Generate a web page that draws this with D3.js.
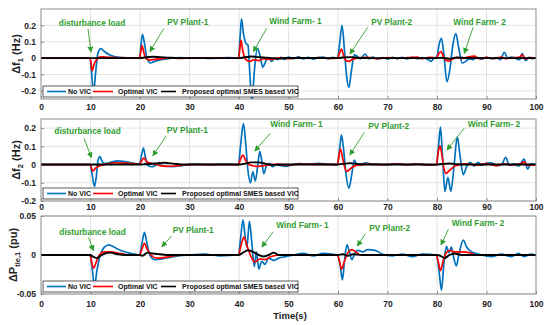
<!DOCTYPE html>
<html>
<head>
<meta charset="utf-8">
<script src="https://cdn.jsdelivr.net/npm/d3@7"></script>
<style>
  body { margin: 0; background: #fff; }
  svg text { font-family: "Liberation Sans", Arial, sans-serif; font-weight: bold; }
</style>
</head>
<body>
<div id="chart"></div>
<script>
////////////////////////////////////////////////////////////////////////
// Data: [time (s), value]

// panel 1 : delta f1 (Hz)
let f1NoVic = [[0,0],[9.9,0],[10.2,-0.08],[10.6,-0.22],[11.0,-0.1],[11.5,0.03],[12.1,0.058],[12.8,0.04],[13.8,0.02],[15,0.008],[16.5,0.003],[18,0],[19.9,0],[20.2,0.08],[20.5,0.145],[20.9,0.09],[21.4,0],[22.1,-0.03],[23,-0.02],[24.5,-0.008],[26,-0.002],[28,0.003],[30,0],[32,0.002],[34,-0.002],[36,0.001],[38,0.003],[39.9,0],[40.2,0.12],[40.5,0.24],[40.9,0.15],[41.4,0.09],[41.8,0.08],[42.2,-0.1],[42.6,-0.27],[43.1,-0.08],[43.7,0.06],[44.2,0.02],[44.8,-0.055],[45.4,-0.02],[46,0.005],[46.6,-0.02],[47.2,0],[47.8,-0.01],[48.5,0.005],[49.2,-0.008],[50,0.006],[51,-0.004],[52,0.007],[53,-0.005],[54,0.004],[55,-0.006],[56,0.003],[57,0.006],[58,-0.004],[59,0.004],[59.9,0],[60.3,0.08],[60.8,0.2],[61.3,0.05],[61.7,-0.1],[62.2,-0.18],[62.7,-0.08],[63.3,0.02],[63.9,0.01],[64.5,-0.005],[65.5,0.025],[66.2,-0.005],[67,0.006],[68,-0.004],[69,0.003],[70,-0.006],[71,0.005],[72,-0.003],[73,0.004],[74,-0.005],[75,0.005],[76,-0.004],[77,0.003],[78.2,-0.008],[78.8,-0.02],[79.4,0],[80,0.01],[80.4,0.08],[80.9,0.12],[81.4,0.02],[82,-0.145],[82.6,-0.07],[83.2,0.08],[83.8,0.15],[84.4,0.06],[85.1,-0.03],[85.8,-0.02],[86.5,-0.005],[87.2,-0.01],[88,0.004],[89,-0.006],[90,0.005],[91,-0.004],[92,0.003],[92.8,-0.01],[93.6,0.035],[94.3,0],[95,0.006],[96,-0.004],[96.7,-0.01],[97.2,0.028],[97.9,-0.015],[98.6,0.005],[99.3,-0.004],[100,0.003]];
let f1Optimal = [[0,0],[9.9,0],[10.1,-0.03],[10.35,-0.078],[10.7,-0.04],[11.2,-0.01],[12,0.008],[13,0.006],[14.5,0.004],[16,0.001],[19.9,0],[20.1,0.03],[20.4,0.077],[20.8,0.03],[21.3,-0.005],[22,-0.012],[23,-0.008],[24.5,-0.003],[26,0.002],[28,-0.002],[30,0],[34,0.002],[38,-0.001],[39.9,0],[40.15,0.05],[40.4,0.11],[40.8,0.04],[41.4,-0.01],[42.2,-0.02],[43,-0.01],[44,-0.015],[45,-0.004],[46.5,-0.008],[48,0.002],[50,-0.003],[52,0.003],[54,-0.002],[56,0.003],[58,-0.002],[59.9,0],[60.3,0.03],[60.7,0.055],[61.1,0.02],[61.6,-0.015],[62.2,-0.02],[62.9,-0.008],[64,0],[66,0.004],[68,-0.004],[70,0.003],[72,-0.002],[74,0.003],[76,0.006],[77,-0.004],[78.5,0.005],[79.9,0],[80.3,0.025],[80.8,0.04],[81.3,0.01],[81.8,-0.015],[82.4,-0.018],[83.2,-0.005],[84,0.003],[85,-0.002],[86,0.004],[87.5,0.012],[88.5,-0.004],[90,0.004],[91.5,-0.003],[93,0.006],[94,-0.004],[95.5,0.003],[96.5,0.004],[97.2,0.018],[97.9,-0.006],[99,0.003],[100,0]];
let f1Smes = [[0,0],[19.9,0],[21,0.004],[22.5,0.008],[24,0.006],[26,0.002],[28,0],[39.9,0],[41,0.004],[42.5,0.01],[44,0.006],[46,0.001],[48,-0.003],[50,0.001],[59.9,0],[61,0.004],[62.5,0.006],[64,0.002],[66,0],[79.9,0],[81,0.002],[82.5,-0.004],[84,0.004],[86,0.001],[90,0],[100,0]];

// panel 2 : delta f2 (Hz)
let f2NoVic = [[0,0],[9.9,0],[10.3,-0.05],[10.8,-0.12],[11.2,-0.06],[11.5,0.02],[11.9,0.043],[12.4,0.015],[13,0.005],[14,0.012],[15.5,0.02],[17,0.016],[18.5,0.008],[19.9,0.003],[20.3,0.05],[20.7,0.09],[21.1,0.04],[21.6,-0.005],[22.4,-0.012],[23.5,0],[25,-0.008],[26.5,-0.012],[28,-0.008],[29.5,0],[31,0.002],[34,0],[37,0.002],[39.9,0],[40.3,0.1],[40.9,0.225],[41.4,0.1],[41.8,-0.03],[42.3,-0.1],[42.8,-0.04],[43.3,-0.09],[43.8,0],[44.2,0.072],[44.6,0.02],[45,-0.05],[45.5,-0.01],[46.1,0.005],[46.8,-0.012],[47.6,0.002],[48.5,-0.006],[49.5,-0.01],[50.5,-0.004],[52,0.005],[54,0.002],[56,0.006],[58,0.002],[59.9,0],[60.3,0.08],[60.7,0.163],[61.1,0.09],[61.6,-0.05],[62.2,-0.13],[62.8,-0.05],[63.3,0.025],[63.8,0],[64.5,-0.004],[65.5,0.01],[66.5,0.004],[68,0.002],[70,-0.002],[72,0.003],[74,0],[76,0.002],[78,-0.003],[79.9,0],[80.3,0.1],[80.7,0.205],[81.1,0.05],[81.6,-0.148],[82.2,-0.07],[82.8,-0.148],[83.4,-0.02],[84.1,0.15],[84.7,0.04],[85.3,-0.055],[86,-0.01],[86.7,0.012],[87.5,-0.008],[88.3,0.012],[89,-0.005],[90,0.008],[91,0.01],[92,-0.006],[93.1,0.002],[93.9,0.04],[94.6,-0.004],[95.5,0.004],[96.5,-0.008],[97.6,0.03],[98.3,-0.025],[99,0.004],[100,0]];
let f2Optimal = [[0,0],[9.9,0],[10.2,-0.02],[10.5,-0.035],[11,-0.02],[12,-0.006],[13.5,0.004],[15,0.01],[17,0.008],[19,0.004],[19.9,0.002],[20.3,0.02],[20.8,0.035],[21.3,0.018],[22,0.008],[23,0.003],[24,-0.006],[25.5,-0.01],[27,-0.008],[28.5,-0.003],[30,0],[39.9,0],[40.3,0.03],[40.8,0.052],[41.3,0.025],[42,0],[43,-0.008],[44,-0.01],[45,-0.006],[46.5,0],[48,0.002],[50,-0.002],[52,0.002],[59.9,0],[60.2,0.05],[60.5,0.085],[60.9,0.04],[61.3,-0.01],[61.8,-0.037],[62.6,-0.02],[63.5,-0.006],[64.5,0],[66,0.002],[68,0],[72,0.003],[74,-0.002],[76,0.003],[78,-0.002],[79.9,0],[80.2,0.06],[80.6,0.104],[81,0.05],[81.4,-0.02],[81.8,-0.048],[82.6,-0.03],[83.5,-0.01],[84.5,0],[86,0.004],[88,-0.003],[90,0.005],[92,-0.006],[93.5,0.004],[95,-0.002],[97,0.005],[97.6,0.015],[98.3,-0.004],[100,0]];
let f2Smes = [[0,0],[19.9,0],[21,0.002],[23,0.006],[25,0.01],[27,0.004],[29,0],[39.9,0],[41,0.004],[42.5,0.012],[44,0.012],[45.5,0.004],[47,-0.002],[49,0],[59.9,0],[61,0.004],[62.5,0.008],[64,0.003],[66,0],[79.9,0],[81,0.003],[82.5,0.006],[84,0.002],[86,0],[100,0]];

// panel 3 : delta P tie,1 (pu)
let pNoVic = [[0,0],[9.9,0],[10.3,-0.015],[10.8,-0.04],[11.3,-0.02],[11.9,-0.002],[12.8,0.01],[13.7,0.013],[14.8,0.01],[16,0.006],[17.5,0.003],[19,0.001],[19.9,0],[20.4,0.015],[20.9,0.029],[21.4,0.015],[22,0],[23,-0.006],[24.5,-0.005],[26,-0.003],[28,-0.001],[30,0],[33,0.001],[36,-0.001],[39.9,0],[40.3,0.02],[40.8,0.045],[41.3,0.02],[41.6,0.01],[42.1,0.043],[42.6,0.015],[43.1,-0.015],[43.5,0.004],[44,-0.018],[44.6,-0.008],[45.2,-0.012],[46,-0.004],[47,-0.007],[48,-0.004],[49.5,-0.002],[51,0],[53,0.002],[55,-0.001],[57,0.002],[59.9,0],[60.4,-0.012],[60.9,-0.032],[61.3,-0.008],[61.8,0.013],[62.3,0.004],[62.8,-0.006],[63.3,0.001],[64,0.006],[65,0.004],[66,0.007],[67.5,0.006],[69,0.001],[71,-0.001],[73,0.001],[75,-0.002],[77,0.001],[79.9,0],[80.4,-0.02],[80.9,-0.045],[81.4,-0.01],[81.9,0.011],[82.4,0.003],[82.9,0.01],[83.4,-0.004],[83.9,-0.014],[84.4,0],[85.3,0.019],[86,0.01],[87,0.004],[88,0.002],[89,0],[91,-0.002],[93,0.001],[95,-0.002],[96.5,0.002],[97.5,-0.002],[99,0.001],[100,-0.001]];
let pOptimal = [[0,0],[9.9,0],[10.2,-0.008],[10.6,-0.017],[11.1,-0.01],[11.8,0],[12.8,0.004],[14,0.004],[16,0.002],[18,0],[19.9,0],[20.4,0.008],[20.9,0.015],[21.4,0.008],[22.2,0],[23.5,-0.004],[25,-0.003],[27,-0.001],[29,0],[39.9,0],[40.4,0.012],[41,0.023],[41.6,0.012],[42.3,0],[43.2,-0.009],[44.2,-0.005],[45.2,-0.006],[46.5,-0.002],[48,0],[59.9,0],[60.3,-0.008],[60.7,-0.018],[61.3,-0.008],[62,0.003],[62.8,0.007],[63.6,0.004],[64.5,0],[66,0],[79.9,0],[80.3,-0.01],[80.7,-0.02],[81.3,-0.006],[82,0.004],[82.6,0.006],[83.5,0.004],[85,0.004],[86.5,0.003],[88,0],[100,0]];
let pSmes = [[0,0],[9.9,0],[10.5,-0.002],[11.3,-0.004],[12,-0.001],[13,0.002],[14,0.003],[15.5,0.001],[17,0],[19.9,0],[20.5,-0.001],[21.5,0.003],[22.5,0.002],[24,0.001],[26,0],[39.9,0],[40.8,0.003],[41.8,0.006],[42.8,0.004],[44,0],[45,-0.002],[46,0],[47,0.003],[48,0],[50,0],[59.9,0],[61,0.001],[62,-0.001],[63,0.001],[65,0],[79.9,0],[80.7,-0.001],[81.5,-0.004],[82.5,0],[83.5,0.002],[85,0],[100,0]];

let xTicks = [0,10,20,30,40,50,60,70,80,90,100];
let yTicksF = [-0.2,-0.1,0,0.1,0.2];
let yTicksP = [-0.05,0,0.05];

let seriesNames = ["No VIC", "Optimal VIC", "Proposed optimal SMES based VIC"];
let seriesColors = ["#0072bd", "#ff0000", "#000000"];

// event labels: [text, text t, text value, arrow from t, from v, to t, to v]
let notes1 = [
  ["disturbance load", 3.6, 0.208, 9.5, 0.178, 10.1, 0.037],
  ["PV Plant-1", 25.5, 0.213, 24.8, 0.181, 22.0, 0.039],
  ["Wind Farm- 1", 46.1, 0.221, 45.6, 0.182, 42.9, 0.039],
  ["PV Plant-2", 66.7, 0.216, 66.0, 0.188, 62.4, 0.025],
  ["Wind Farm- 2", 83.3, 0.216, 87.3, 0.188, 85.5, 0.029]
];
let notes2 = [
  ["disturbance load", 2.7, 0.177, 8.7, 0.144, 10.2, 0.037],
  ["PV Plant-1", 25.4, 0.184, 25.3, 0.158, 22.6, 0.048],
  ["Wind Farm- 1", 46.3, 0.217, 46.3, 0.171, 43.2, 0.074],
  ["PV Plant-2", 66.1, 0.208, 65.3, 0.177, 62.4, 0.052],
  ["Wind Farm- 2", 86.2, 0.217, 85.5, 0.199, 82.0, 0.08]
];
let notes3 = [
  ["disturbance load", 3.7, 0.029, 9.6, 0.0227, 10.6, 0.0055],
  ["PV Plant-1", 26.6, 0.031, 26.4, 0.0244, 24.4, 0.0106],
  ["Wind Farm- 1", 47.5, 0.0376, 46.9, 0.0295, 44.6, 0.0103],
  ["PV Plant-2", 66.3, 0.0333, 65.5, 0.0269, 63.9, 0.0115],
  ["Wind Farm- 2", 83.0, 0.0394, 82.3, 0.033, 80.8, 0.0128]
];

////////////////////////////////////////////////////////////////////////
// svg + layout

let width = 550, height = 325;
let green = "#2f9e2f";

let svg = d3.select("#chart").append("svg")
  .attr("width", width).attr("height", height);

svg.append("defs").append("marker")
  .attr("id", "arrow")
  .attr("markerUnits", "userSpaceOnUse")
  .attr("viewBox", "0 0 10 10")
  .attr("refX", 9).attr("refY", 5)
  .attr("markerWidth", 6).attr("markerHeight", 6)
  .attr("orient", "auto")
  .append("path").attr("d", "M0,0L10,5L0,10z").attr("fill", green);

let xScale = d3.scaleLinear().domain([0, 100]).range([41, 536]);

let panels = [
  { top: 9,   bottom: 99,  domain: [-0.25, 0.3], ticks: yTicksF, series: [f1NoVic, f1Optimal, f1Smes],
    notes: notes1, label: ["\u0394f", "1", "  (Hz)"], labelX: 20, xLabelY: 110 },
  { top: 119, bottom: 201, domain: [-0.2, 0.25], ticks: yTicksF, series: [f2NoVic, f2Optimal, f2Smes],
    notes: notes2, label: ["\u0394f", "2", "  (Hz)"], labelX: 20, xLabelY: 210 },
  { top: 216, bottom: 294, domain: [-0.05, 0.05], ticks: yTicksP, series: [pNoVic, pOptimal, pSmes],
    notes: notes3, label: ["\u0394P", "tie,1", " (pu)"], labelX: 17, xLabelY: 307 }
];

panels.forEach(function(p, i) {
  let yScale = d3.scaleLinear().domain(p.domain).range([p.bottom, p.top]);
  let g = svg.append("g").attr("class", "panel");

  // grid
  g.append("g").selectAll("line").data(xTicks.slice(1, -1)).enter().append("line")
    .attr("x1", d => xScale(d)).attr("x2", d => xScale(d))
    .attr("y1", p.top).attr("y2", p.bottom)
    .attr("stroke", "#e3e3e3").attr("stroke-width", 1);
  g.append("g").selectAll("line").data(p.ticks).enter().append("line")
    .attr("x1", 41).attr("x2", 536)
    .attr("y1", d => yScale(d)).attr("y2", d => yScale(d))
    .attr("stroke", "#e3e3e3").attr("stroke-width", 1);

  // axes (ticks inside, MATLAB style)
  let yAxis = d3.axisLeft(yScale).tickValues(p.ticks).tickSize(-3).tickPadding(5)
    .tickFormat(d => d === 0 ? "0" : String(d));
  let ya = g.append("g").attr("transform", "translate(41,0)").call(yAxis);
  let xAxis = d3.axisBottom(xScale).tickValues(xTicks).tickSize(-3).tickPadding(0).tickFormat(d3.format("d"));
  let xa = g.append("g").attr("transform", "translate(0," + p.bottom + ")").call(xAxis);
  xa.selectAll("text").attr("y", p.xLabelY - p.bottom).attr("dy", 0);
  [ya, xa].forEach(function(a) {
    a.select(".domain").remove();
    a.selectAll("line").attr("stroke", "#8c8c8c");
    a.selectAll("text").attr("fill", "#222").style("font-size", "8.5px");
  });

  // data lines
  let clipId = "clip" + i;
  svg.append("clipPath").attr("id", clipId).append("rect")
    .attr("x", 41).attr("y", p.top).attr("width", 495).attr("height", p.bottom - p.top);
  let line = d3.line().x(d => xScale(d[0])).y(d => yScale(d[1])).curve(d3.curveMonotoneX);
  g.append("g").attr("clip-path", "url(#" + clipId + ")")
    .selectAll(".datapath").data(p.series).enter().append("path")
    .attr("class", "datapath")
    .attr("d", d => line(d))
    .attr("fill", "none")
    .attr("stroke", (d, k) => seriesColors[k])
    .attr("stroke-width", (d, k) => k === 2 ? 1.9 : 1.7)
    .attr("stroke-linejoin", "round");

  // frame
  g.append("rect").attr("x", 41).attr("y", p.top).attr("width", 495).attr("height", p.bottom - p.top)
    .attr("fill", "none").attr("stroke", "#8c8c8c").attr("stroke-width", 1);

  // event labels
  p.notes.forEach(function(n) {
    g.append("text").attr("x", xScale(n[1])).attr("y", yScale(n[2]))
      .attr("dominant-baseline", "middle")
      .style("font-size", "8.3px").attr("fill", green).text(n[0]);
    g.append("line")
      .attr("x1", xScale(n[3])).attr("y1", yScale(n[4]))
      .attr("x2", xScale(n[5])).attr("y2", yScale(n[6]))
      .attr("stroke", green).attr("stroke-width", 0.9)
      .attr("marker-end", "url(#arrow)");
  });

  // legend
  let ly = p.bottom - 13;
  let lg = g.append("g").attr("transform", "translate(43," + ly + ")");
  lg.append("rect").attr("width", 255).attr("height", 11)
    .attr("fill", "#fff").attr("stroke", "#333").attr("stroke-width", 0.8);
  let items = [[4, 23, 25], [50, 70, 75], [118, 133, 139]];
  items.forEach(function(it, k) {
    lg.append("line").attr("x1", it[0]).attr("x2", it[1]).attr("y1", 5.5).attr("y2", 5.5)
      .attr("stroke", seriesColors[k]).attr("stroke-width", 1.6);
    lg.append("text").attr("x", it[2]).attr("y", 5.7).attr("dominant-baseline", "middle")
      .style("font-size", "7px").attr("fill", "#111").text(seriesNames[k]);
  });

  // y label
  let cy = (p.top + p.bottom) / 2;
  let t = g.append("text")
    .attr("transform", "translate(" + p.labelX + "," + cy + ") rotate(-90)")
    .attr("text-anchor", "middle").style("font-size", "11px").attr("fill", "#222");
  t.append("tspan").text(p.label[0]);
  t.append("tspan").attr("dy", 3).style("font-size", "7.5px").text(p.label[1]);
  t.append("tspan").attr("dy", -3).text(p.label[2]);
});

svg.append("text").attr("x", 290).attr("y", 319).attr("text-anchor", "middle")
  .style("font-size", "9.5px").attr("fill", "#222").text("Time(s)");
</script>
</body>
</html>
